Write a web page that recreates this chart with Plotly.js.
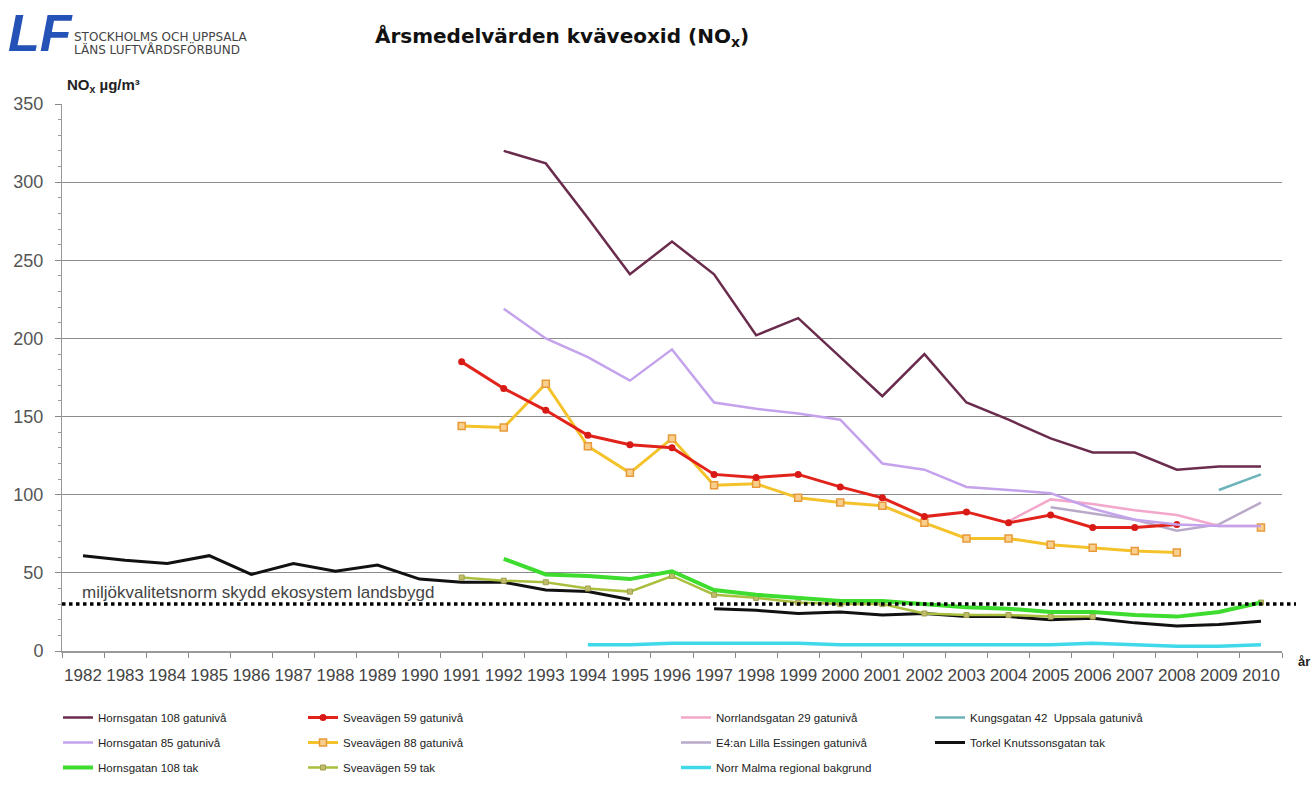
<!DOCTYPE html>
<html><head><meta charset="utf-8">
<script src="https://cdn.plot.ly/plotly-3.0.1.min.js"></script>
<style>html,body{margin:0;padding:0;background:#fff}#chart{width:1311px;height:787px}</style>
</head><body><div id="chart"></div>
<script>
const years = ['1982','1983','1984','1985','1986','1987','1988','1989','1990','1991','1992','1993','1994','1995','1996','1997','1998','1999','2000','2001','2002','2003','2004','2005','2006','2007','2008','2009','2010'];

// values per year 1982..2010 (null = no measurement)
const hornsgatan108Gata = [null,null,null,null,null,null,null,null,null,null,320,312,277,241,262,241,202,213,188,163,190,159,148,136,127,127,116,118,118];
const hornsgatan85Gata  = [null,null,null,null,null,null,null,null,null,null,219,200,188,173,193,159,155,152,148,120,116,105,103,101,91,84,81,80,80];
const hornsgatan108Tak  = [null,null,null,null,null,null,null,null,null,null,59,49,48,46,51,39,36,34,32,32,30,28,27,25,25,23,22,25,31];
const sveavagen59Gata   = [null,null,null,null,null,null,null,null,null,185,168,154,138,132,130,113,111,113,105,98,86,89,82,87,79,79,81,null,null];
const sveavagen88Gata   = [null,null,null,null,null,null,null,null,null,144,143,171,131,114,136,106,107,98,95,93,82,72,72,68,66,64,63,null,79];
const sveavagen59Tak    = [null,null,null,null,null,null,null,null,null,47,45,44,40,38,48,36,34,31,30,30,24,23,23,22,22,null,null,null,31];
const norrlandsgatan29Gata = [null,null,null,null,null,null,null,null,null,null,null,null,null,null,null,null,null,null,null,null,null,null,83,97,94,90,87,80,80];
const e4LillaEssingenGata  = [null,null,null,null,null,null,null,null,null,null,null,null,null,null,null,null,null,null,null,null,null,null,null,92,88,84,77,81,95];
const kungsgatan42Gata     = [null,null,null,null,null,null,null,null,null,null,null,null,null,null,null,null,null,null,null,null,null,null,null,null,null,null,null,103,113];
const torkelKnutssonTak    = [61,58,56,61,49,56,51,55,46,44,44,39,38,33,null,27,26,24,25,23,24,22,22,20,21,18,16,17,19];
const norrMalmaBakgrund    = [null,null,null,null,null,null,null,null,null,null,null,null,4,4,5,5,5,5,4,4,4,4,4,4,5,4,3,3,4];

const normValue = 30;
const yTicks = [0,50,100,150,200,250,300,350];

// plot-area pixel frame for placing paper-referenced text
const L=62, R=1282, T=104, B=651;
const px = x => (x-L)/(R-L);
const py = y => (B-y)/(B-T);

const FONT = 'Arial, "Liberation Sans", sans-serif';
const WIDE = '"DejaVu Sans", Verdana, sans-serif';

function tr(name, y, color, width, legend, rank, marker){
  const t = {x: years, y: y, name: name, type:'scatter',
    mode: marker ? 'lines+markers' : 'lines',
    line:{color:color, width:width}, legend:legend, legendgroup:'g_'+name, legendrank:rank,
    hoverinfo:'x+y+name'};
  if (marker) t.marker = marker;
  return t;
}

const data = [
  tr('Norr Malma regional bakgrund', norrMalmaBakgrund, '#3fd9ea', 3.5, 'legend3', 3),
  tr('Torkel Knutssonsgatan tak', torkelKnutssonTak, '#111111', 3, 'legend4', 2),
  tr('Sveavägen 59 tak', sveavagen59Tak, '#aabf3e', 2.5, 'legend2', 3, {symbol:'square', size:5, color:'#c0bc6a', line:{color:'#a0a050', width:1}}),
  tr('Hornsgatan 108 tak', hornsgatan108Tak, '#3ddc2e', 4, 'legend', 3),
  tr('E4:an Lilla Essingen gatunivå', e4LillaEssingenGata, '#b9a9c9', 2.5, 'legend3', 2),
  tr('Norrlandsgatan 29 gatunivå', norrlandsgatan29Gata, '#f2a7cb', 2.5, 'legend3', 1),
  tr('Kungsgatan 42  Uppsala gatunivå', kungsgatan42Gata, '#6db4ba', 2.5, 'legend4', 1),
  tr('Sveavägen 88 gatunivå', sveavagen88Gata, '#f4c22a', 3, 'legend2', 2, {symbol:'square', size:7, color:'#f8cf8c', line:{color:'#e89a3a', width:1.5}}),
  tr('Sveavägen 59 gatunivå', sveavagen59Gata, '#e2231b', 3, 'legend2', 1, {symbol:'circle', size:7, color:'#d81a16'}),
  tr('Hornsgatan 85 gatunivå', hornsgatan85Gata, '#c4a2ec', 2.5, 'legend', 2),
  tr('Hornsgatan 108 gatunivå', hornsgatan108Gata, '#6a2c4c', 2.5, 'legend', 1)
];

function leg(xpx){
  return {x:px(xpx), xanchor:'left', y:py(703), yanchor:'top', orientation:'v',
    traceorder:'grouped', tracegroupgap:6, bgcolor:'rgba(0,0,0,0)',
    font:{family:FONT, size:11.5, color:'#222'}, itemwidth:30};
}

const layout = {
  width:1311, height:787,
  margin:{l:L, r:1311-R, t:T, b:787-B, pad:0, autoexpand:false},
  paper_bgcolor:'#fff', plot_bgcolor:'#fff',
  font:{family:FONT, color:'#333'},
  title:{text:'<b>Årsmedelvärden kväveoxid (NO<sub>x</sub>)</b>', x:562/1311, xanchor:'center', xref:'container',
    y:1-36/787, yanchor:'middle', yref:'container', font:{family:WIDE, size:20, color:'#111'}},
  xaxis:{type:'category', range:[-0.5, 28.5], tickson:'boundaries', ticks:'outside', ticklen:5, tickcolor:'#888',
    showline:true, linecolor:'#999', linewidth:1.5, showgrid:false, zeroline:false, tickangle:0,
    ticklabelstandoff:8, automargin:false,
    tickfont:{family:FONT, size:17, color:'#444'}, fixedrange:true},
  yaxis:{range:[0,350], tickvals:yTicks, ticks:'outside', ticklen:6, tickcolor:'#888',
    minor:{dtick:10, ticks:'outside', ticklen:3, tickcolor:'#999', showgrid:false},
    showline:true, linecolor:'#999', linewidth:1, showgrid:true, gridcolor:'#8c8c8c', gridwidth:1,
    ticklabelstandoff:8, automargin:false,
    zeroline:false, tickfont:{family:FONT, size:18, color:'#555'}, fixedrange:true},
  showlegend:true,
  legend: leg(58), legend2: leg(303), legend3: leg(676), legend4: leg(930),
  shapes:[
    {type:'line', xref:'paper', yref:'y', x0:0, x1:px(1296), y0:normValue, y1:normValue,
     line:{color:'#000', width:3.5, dash:'dot'}, layer:'above'}
  ],
  annotations:[
    {text:'miljökvalitetsnorm skydd ekosystem landsbygd', xref:'paper', yref:'y', x:px(80), y:normValue,
     xanchor:'left', yanchor:'bottom', yshift:0, showarrow:false, font:{family:FONT, size:17, color:'#444'}},
    {text:'<b>NO<sub>x</sub> µg/m³</b>', xref:'paper', yref:'paper', x:px(65), y:py(85), xanchor:'left', yanchor:'middle',
     showarrow:false, font:{family:FONT, size:15, color:'#222'}},
    {text:'<b>år</b>', xref:'paper', yref:'paper', x:px(1296), y:py(661), xanchor:'left', yanchor:'middle',
     showarrow:false, font:{family:FONT, size:13, color:'#222'}},
    {text:'<b><i>LF</i></b>', xref:'paper', yref:'paper', x:px(6), y:py(33), xanchor:'left', yanchor:'middle',
     showarrow:false, font:{family:FONT, size:52, color:'#2552b6'}},
    {text:'STOCKHOLMS OCH UPPSALA', xref:'paper', yref:'paper', x:px(72), y:py(37), xanchor:'left', yanchor:'middle',
     showarrow:false, font:{family:WIDE, size:12, color:'#444'}},
    {text:'LÄNS LUFTVÅRDSFÖRBUND', xref:'paper', yref:'paper', x:px(72), y:py(49), xanchor:'left', yanchor:'middle',
     showarrow:false, font:{family:WIDE, size:12, color:'#444'}}
  ]
};

Plotly.newPlot('chart', data, layout, {displayModeBar:false, responsive:false});
</script>
</body></html>
